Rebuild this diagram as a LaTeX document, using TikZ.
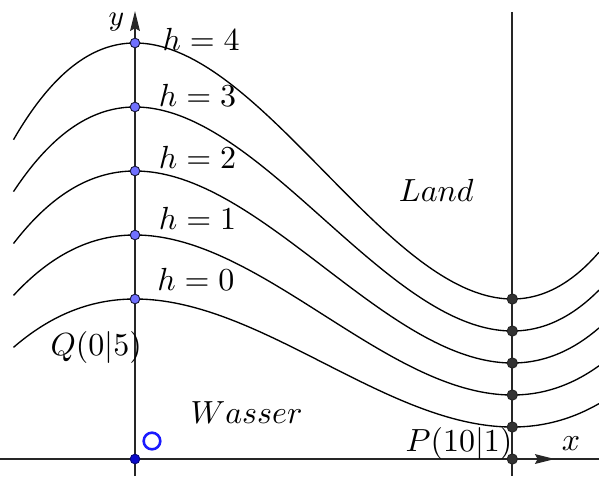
\documentclass[tikz,border=0pt]{standalone}
\usetikzlibrary{arrows.meta}
\definecolor{ptblue}{HTML}{7070FF}
\definecolor{ptedge}{HTML}{1A1A40}
\definecolor{ptgray}{HTML}{333333}
\definecolor{origblue}{HTML}{0A0ACC}
\definecolor{ringblue}{HTML}{1A1AFF}
\tikzset{
  axisline/.style={line width=0.6pt, black!85},
  levelcurve/.style={line width=0.42pt, black, smooth, samples=120},
  lbl/.style={inner sep=0pt, anchor=base west},
  bluept/.style={circle, fill=ptblue, draw=ptedge, line width=0.3pt, minimum size=3pt, inner sep=0pt},
  graypt/.style={circle, fill=ptgray, draw=ptgray!70!black, line width=0.3pt, minimum size=3.2pt, inner sep=0pt},
  origpt/.style={circle, fill=origblue, draw=origblue!60!black, line width=0.3pt, minimum size=3pt, inner sep=0pt},
  axtip/.style={-{Stealth[length=6.2pt,width=3pt,inset=0.8pt]}}
}
\begin{document}
\begin{tikzpicture}[x=11.79pt, y=10pt]
\useasboundingbox (-3.578,-0.531) rectangle (12.298,14.344);
% axes
\coordinate (xl) at (-3.578,0);
\coordinate (xr) at (12.298,0);
\coordinate (xa) at (10.5,0);
\coordinate (xt) at (11.13,0);
\coordinate (yb) at (0,-0.531);
\coordinate (yt) at (0,14.0);
\coordinate (vt) at (10,13.97);
\coordinate (vb) at (10,-0.531);
\draw[axisline] (xl) -- (xr);
\draw[axisline, axtip] (xa) -- (xt);
\draw[axisline, axtip] (yb) -- (yt);
\draw[axisline] (vt) -- (vb);
% level curves
\foreach \h in {0,...,4}{
  \draw[levelcurve, domain=-3.22:12.298]
    plot (\x, {(5+2*\h) - (4+\h)*(3*(\x/10)^2 - 2*(\x/10)^3)});
}
% points
\foreach \h in {0,...,4}{
  \node[bluept] (q\h) at (0,{5+2*\h}) {};
  \node[graypt] (p\h) at (10,{1+\h}) {};
}
\node[graypt] (p10) at (10,0) {};
\node[origpt] (o) at (0,0) {};
\node[circle, draw=ringblue, line width=0.8pt, minimum size=5.2pt, inner sep=0pt] (ring) at (0.45,0.5625) {};
% labels
\node[lbl] (l4) at (0.716,12.78) {$h=4$};
\node[lbl] (l3) at (0.618,11.03) {$h=3$};
\node[lbl] (l2) at (0.618,9.09) {$h=2$};
\node[lbl] (l1) at (0.618,7.16) {$h=1$};
\node[lbl] (l0) at (0.575,5.26) {$h=0$};
\node[lbl] (Q) at (-2.253,3.25) {$Q(0|5)$};
\node[lbl] (W) at (1.458,1.116) {$Wasser$};
\node[lbl] (L) at (6.98,8.04) {$Land$};
\node[lbl] (P) at (7.156,0.228) {$P(10|1)$};
\node[inner sep=0pt, anchor=base] (xlab) at (11.556,0.28) {$x$};
\node[inner sep=0pt, font=\small] (ylab) at (-0.49,13.66) {$y$};
\end{tikzpicture}
\end{document}
